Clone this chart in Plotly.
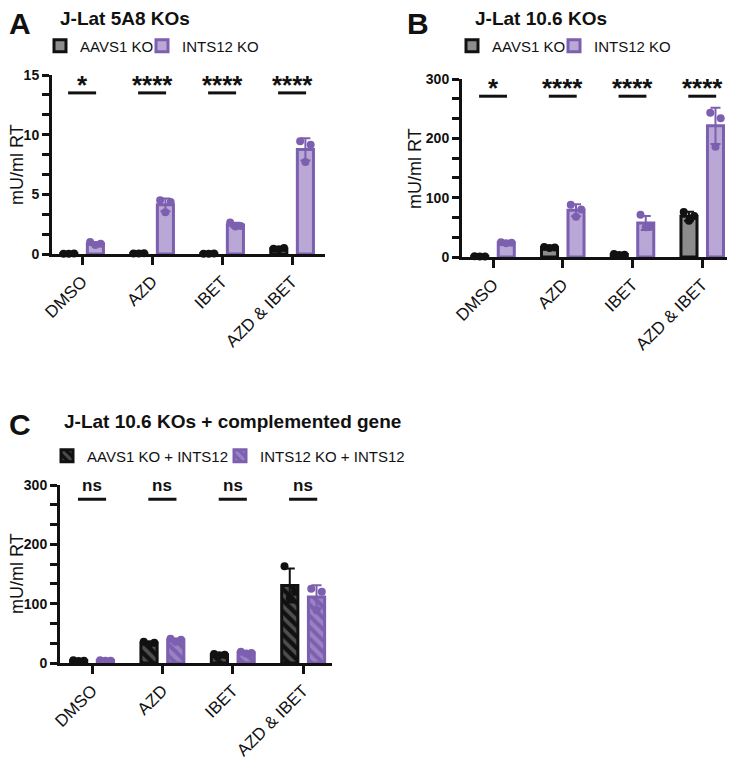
import numpy as np
import plotly.graph_objects as go

# Categories shared by the three panels
categories = ["DMSO", "AZD", "IBET", "AZD & IBET"]

# Panel A - J-Lat 5A8 KOs (mU/ml RT, three replicates per condition)
a_aavs1_points = [[0.03, 0.04, 0.02], [0.05, 0.06, 0.04], [0.03, 0.04, 0.02], [0.45, 0.5, 0.4]]
a_ints12_points = [[1.0, 0.85, 0.75], [4.5, 4.35, 3.5], [2.65, 2.35, 2.3], [9.45, 9.15, 7.7]]
a_signif = ["*", "****", "****", "****"]
a_yticks = [0, 5, 10, 15]

# Panel B - J-Lat 10.6 KOs
b_aavs1_points = [[1.2, 1.0, 0.8], [17, 16, 15], [5, 4, 3.5], [76, 69, 61]]
b_ints12_points = [[25, 24, 23], [88, 80, 68], [71, 51, 50], [243, 234, 186]]
b_signif = ["*", "****", "****", "****"]
b_yticks = [0, 100, 200, 300]

# Panel C - J-Lat 10.6 KOs + complemented gene
c_aavs1_points = [[4.5, 4, 3.5], [36, 34, 31], [15, 14, 13], [163, 120, 109]]
c_ints12_points = [[4.5, 4, 4], [41, 39, 36], [19, 17, 16], [125, 120, 89]]
c_signif = ["ns", "ns", "ns", "ns"]
c_yticks = [0, 100, 200, 300]

y_title = "mU/ml RT"

FONT = "Arial, Liberation Sans, sans-serif"
BLACK = "#111111"
GRAY = "#8c8c8c"
PURPLE = "#7d5fb0"
LIGHT_PURPLE = "#b9a8d6"

BAR_W = 0.23
BAR_SHIFT = 0.19
JITTER = [-0.075, 0.075, 0.0]
W, H = 735, 763


def px_x(x):
    return x / W


def px_y(y):
    return 1 - y / H


def mean_sd(points):
    arr = np.array(points, dtype=float)
    return arr.mean(axis=1), arr.std(axis=1, ddof=1)


def add_group(fig, points, shift, name, line_color, fill_color, dot_color,
              xaxis, yaxis, legend, pattern=None):
    means, sds = mean_sd(points)
    marker = dict(color=fill_color, line=dict(color=line_color, width=3))
    if pattern:
        marker["pattern"] = pattern
    fig.add_trace(go.Bar(
        x=list(range(len(categories))), y=means, offset=shift - BAR_W / 2, width=BAR_W,
        name=name, marker=marker, xaxis=xaxis, yaxis=yaxis, legend=legend,
        error_y=dict(type="data", array=sds, color=line_color, thickness=2, width=5),
    ))
    xs, ys = [], []
    for i, vals in enumerate(points):
        for j, v in enumerate(vals):
            xs.append(i + shift + JITTER[j])
            ys.append(v)
    fig.add_trace(go.Scatter(
        x=xs, y=ys, mode="markers", showlegend=False, cliponaxis=False,
        marker=dict(color=dot_color, size=8), xaxis=xaxis, yaxis=yaxis,
    ))


def add_signif(fig, labels, line_y, text_y, text_size, xref, yref):
    for i, lab in enumerate(labels):
        fig.add_shape(type="line", xref=xref, yref=yref, x0=i - 0.2, x1=i + 0.2,
                      y0=line_y, y1=line_y, line=dict(color=BLACK, width=3))
        fig.add_annotation(text=lab, xref=xref, yref=yref, x=i, y=text_y, showarrow=False,
                           yanchor="middle",
                           font=dict(family=FONT, size=text_size, color=BLACK, weight="bold"))


fig = go.Figure()

add_group(fig, a_aavs1_points, -BAR_SHIFT, "AAVS1 KO", BLACK, GRAY, BLACK, "x", "y", "legend")
add_group(fig, a_ints12_points, BAR_SHIFT, "INTS12 KO", PURPLE, LIGHT_PURPLE, PURPLE, "x", "y", "legend2")
add_group(fig, b_aavs1_points, -BAR_SHIFT, "AAVS1 KO", BLACK, GRAY, BLACK, "x2", "y2", "legend3")
add_group(fig, b_ints12_points, BAR_SHIFT, "INTS12 KO", PURPLE, LIGHT_PURPLE, PURPLE, "x2", "y2", "legend4")
add_group(fig, c_aavs1_points, -BAR_SHIFT, "AAVS1 KO + INTS12", BLACK, BLACK, BLACK, "x3", "y3", "legend5",
          pattern=dict(shape="\\", fgcolor=GRAY, size=8, solidity=0.45, fillmode="overlay"))
add_group(fig, c_ints12_points, BAR_SHIFT, "INTS12 KO + INTS12", PURPLE, PURPLE, PURPLE, "x3", "y3", "legend6",
          pattern=dict(shape="\\", fgcolor=LIGHT_PURPLE, size=8, solidity=0.5, fillmode="overlay"))

add_signif(fig, a_signif, 13.5, 14.2, 26, "x", "y")
add_signif(fig, b_signif, 271, 284, 26, "x2", "y2")
add_signif(fig, c_signif, 276, 299, 17, "x3", "y3")


def xaxis_style(domain, rng, anchor):
    return dict(domain=domain, range=rng, anchor=anchor, automargin=False, tickmode="array",
                tickvals=list(range(len(categories))), ticktext=categories, tickangle=-45,
                ticks="outside", ticklen=8, tickwidth=3, tickcolor=BLACK, showline=True,
                linewidth=3, linecolor=BLACK, showgrid=False, zeroline=False,
                tickfont=dict(family=FONT, size=17, color=BLACK))


def yaxis_style(domain, labels, anchor):
    # every labelled interval carries two unlabelled ticks, as in the original
    step = (labels[1] - labels[0]) / 3
    vals, texts = [], []
    for k in range(3 * (len(labels) - 1) + 1):
        vals.append(k * step)
        texts.append(str(labels[k // 3]) if k % 3 == 0 else "")
    return dict(domain=domain, range=[labels[0], labels[-1]], anchor=anchor, automargin=False,
                tickmode="array", tickvals=vals, ticktext=texts,
                ticks="outside", ticklen=7, tickwidth=3, tickcolor=BLACK, showline=True,
                linewidth=3, linecolor=BLACK, showgrid=False, zeroline=False,
                tickfont=dict(family=FONT, size=14, color=BLACK, weight="bold"))


def legend_style(x, y):
    return dict(orientation="h", x=px_x(x), y=px_y(y), xanchor="left", yanchor="middle",
                bgcolor="rgba(0,0,0,0)", font=dict(family=FONT, size=15, color=BLACK),
                itemclick=False)


# the page puts the figure 8 px in from the window corner, so figure pixels run 8 px behind
fig.update_layout(
    width=W, height=H, margin=dict(l=0, r=0, t=0, b=0, autoexpand=False),
    paper_bgcolor="white", plot_bgcolor="white", barmode="overlay",
    xaxis=xaxis_style([px_x(44), px_x(317)], [-0.43, 3.47], "y"),
    yaxis=yaxis_style([px_y(246), px_y(67)], a_yticks, "x"),
    xaxis2=xaxis_style([px_x(454), px_x(727)], [-0.445, 3.47], "y2"),
    yaxis2=yaxis_style([px_y(249), px_y(71)], b_yticks, "x2"),
    xaxis3=xaxis_style([px_x(52), px_x(324)], [-0.455, 3.41], "y3"),
    yaxis3=yaxis_style([px_y(655), px_y(477)], c_yticks, "x3"),
    legend=legend_style(32, 38),
    legend2=legend_style(134, 38),
    legend3=legend_style(444, 38),
    legend4=legend_style(546, 38),
    legend5=legend_style(39, 448),
    legend6=legend_style(212, 448),
)

# y axis titles, panel letters and titles
for tx, ty in [(9, 157), (407, 161), (9, 566)]:
    fig.add_annotation(text=y_title, xref="paper", yref="paper", x=px_x(tx), y=px_y(ty),
                       textangle=-90, showarrow=False, xanchor="center", yanchor="middle",
                       font=dict(family=FONT, size=18, color=BLACK))
for letter, lx, ly in [("A", 12, 15), ("B", 410, 15), ("C", 12, 417)]:
    fig.add_annotation(text=letter, xref="paper", yref="paper", x=px_x(lx), y=px_y(ly),
                       showarrow=False, xanchor="center", yanchor="middle",
                       font=dict(family=FONT, size=30, color=BLACK, weight="bold"))
for title, tx, ty in [("J-Lat 5A8 KOs", 50, 10), ("J-Lat 10.6 KOs", 465, 10),
                      ("J-Lat 10.6 KOs + complemented gene", 54, 413)]:
    fig.add_annotation(text=title, xref="paper", yref="paper", x=px_x(tx), y=px_y(ty),
                       showarrow=False, xanchor="left", yanchor="middle",
                       font=dict(family=FONT, size=19, color=BLACK, weight="bold"))

fig.write_html("out.html")
